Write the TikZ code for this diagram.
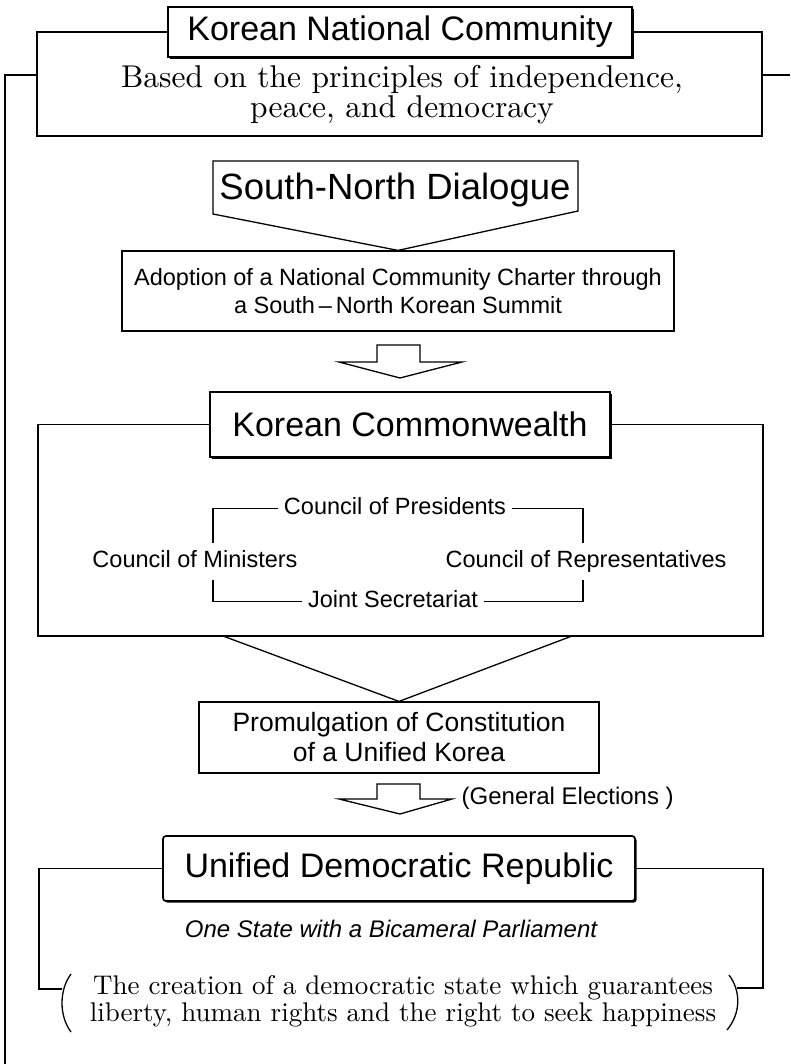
\documentclass[tikz,border=0pt]{standalone}
\usepackage{fontspec}
\setsansfont{Liberation Sans}
\newfontfamily\romanten{lmroman10-regular.otf}
\usetikzlibrary{shadows}

\begin{document}
\begin{tikzpicture}[x=1pt,y=-1pt,line width=1.3pt,
    title/.style={draw,fill=white,line width=1.7pt,inner sep=0pt,
      font=\sffamily\fontsize{34}{40}\selectfont,
      drop shadow={shadow xshift=1.6pt,shadow yshift=-1.6pt,fill=black,opacity=1}},
    plain/.style={draw,fill=white,line width=1.2pt,align=center,inner sep=0pt},
    small/.style={font=\sffamily\fontsize{23.5}{28}\selectfont},
    council/.style={small,inner xsep=5pt,inner ysep=7pt,text height=17pt,text depth=5pt},
    serif/.style={align=center,inner sep=0pt}]

  \useasboundingbox (0,0) rectangle (790,1064);

  \node[title,minimum width=464pt,minimum height=50pt] (knc) at (400,32) {Korean National Community};
  \node[serif,font=\romanten\fontsize{31.5}{30}\selectfont] (prin) at (402,95)
    {Based on the principles of independence,\\peace, and democracy};
  \draw (knc.west) -- (37,32) -- (37,136) -- (762,136) -- (762,32) -- (knc.east);
  \draw[line width=2.2pt] (37,75) -- (5,75) -- (5,1064);
  \draw[line width=2.2pt] (762,75) -- (790,75);

  \node[font=\sffamily\fontsize{36.5}{40}\selectfont] (snd) at (395,190) {South-North Dialogue};
  \node[plain,small,minimum width=552pt,minimum height=80pt] (adp) at (398,291)
    {Adoption of a National Community Charter through\\a South\,--\,North Korean Summit};
  \draw (213,161) -- (578,161) -- (578,211) -- (adp.north) -- (213,214) -- cycle;
  \draw (339,362) -- (377,362) -- (377,345) -- (420,345) -- (420,362) -- (462,362) -- (400,378) -- cycle;

  \node[title,minimum width=400pt,minimum height=65pt] (kc) at (410,424.5) {Korean Commonwealth};
  \draw (kc.west) -- (38,424.5) -- (38,636) -- (763,636) -- (763,424.5) -- (kc.east);

  \node[council] (cp) at (395,508.5) {Council of Presidents};
  \node[council] (cm) at (195,561.5) {Council of Ministers};
  \node[council] (cr) at (586,561.5) {Council of Representatives};
  \node[council] (js) at (393,601.5) {Joint Secretariat};
  \coordinate (bl) at (213,0);
  \coordinate (br) at (583,0);
  \draw (cp.west) -| (bl |- cm.north);
  \draw (bl |- cm.south) |- (js.west);
  \draw (cp.east) -| (br |- cr.north);
  \draw (br |- cr.south) |- (js.east);

  \node[plain,font=\sffamily\fontsize{26.5}{30}\selectfont,minimum width=400pt,minimum height=71pt] (pro) at (399,737.5)
    {Promulgation of Constitution\\of a Unified Korea};
  \draw (223,636) -- (pro.north) -- (572,636);
  \draw (339,799) -- (377,799) -- (377,784) -- (420,784) -- (420,799) -- (452,799) -- (400,814) -- cycle;
  \node[anchor=west,font=\sffamily\fontsize{24}{28}\selectfont,inner sep=0pt] (gen) at (461,798) {(General Elections )};

  \node[title,rounded corners=3pt,minimum width=472pt,minimum height=65pt] (udr) at (399,868.5) {Unified Democratic Republic};
  \node[font=\sffamily\itshape\fontsize{24}{28}\selectfont] (one) at (391,929) {One State with a Bicameral Parliament};
  \node[serif,font=\romanten\fontsize{27}{27}\selectfont] (goal) at (403,1001)
    {The creation of a democratic state which guarantees\\liberty, human rights and the right to seek happiness};
  \draw (71,974) .. controls (59,990) and (59,1016) .. (71,1032);
  \draw (729,975) .. controls (741,991) and (741,1013) .. (727,1030);
  \draw (udr.west) -- (39,868.5) -- (39,989) -- (62,989);
  \draw (udr.east) -- (763,868.5) -- (763,988) -- (737,988);
\end{tikzpicture}
\end{document}
